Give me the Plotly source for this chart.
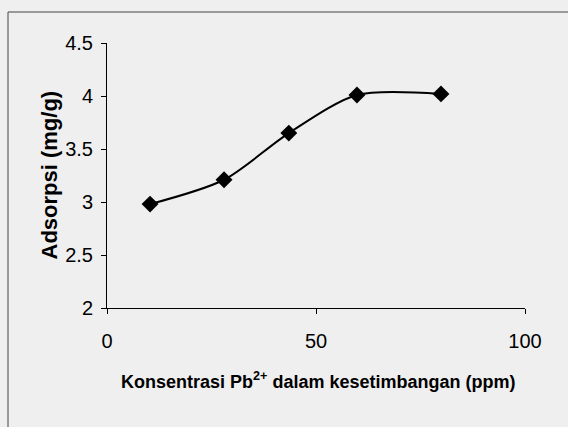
import plotly.graph_objects as go

# Data
konsentrasi = [10.3, 28.0, 43.5, 59.8, 79.9]
adsorpsi = [2.98, 3.21, 3.65, 4.01, 4.02]

x_tick_vals = [0, 50, 100]
y_tick_vals = [2, 2.5, 3, 3.5, 4, 4.5]
y_tick_text = ["2", "2.5", "3", "3.5", "4", "4.5"]

W, H = 568, 427
L, R, T, B = 107, 43, 43, 119
pw, ph = W - L - R, H - T - B
BG = "#efefef"

def px_x(px):
    return (px - L) / pw

def px_y(py):
    return (H - B - py) / ph

fig = go.Figure()
fig.add_trace(go.Scatter(
    x=konsentrasi, y=adsorpsi, mode="lines+markers",
    line=dict(color="black", width=2, shape="spline", smoothing=0.8),
    marker=dict(symbol="diamond", size=13, color="black"),
    showlegend=False, cliponaxis=False,
))

font_family = "Liberation Sans, Arial, sans-serif"

fig.update_layout(
    width=W, height=H,
    margin=dict(l=L, r=R, t=T, b=B),
    paper_bgcolor=BG, plot_bgcolor=BG,
    font=dict(family=font_family, color="black"),
    xaxis=dict(range=[0, 100], tickvals=x_tick_vals, ticks="outside", ticklen=5,
               tickcolor="black", showline=True, linecolor="black", linewidth=1,
               showgrid=False, zeroline=False, ticklabelstandoff=10,
               tickfont=dict(size=20, color="black")),
    yaxis=dict(range=[2, 4.5], tickvals=y_tick_vals, ticktext=y_tick_text,
               ticks="outside", ticklen=5, tickcolor="black", showline=True,
               linecolor="black", linewidth=1, showgrid=False, zeroline=False,
               ticklabelstandoff=4, tickfont=dict(size=20, color="black")),
    annotations=[
        dict(text="<b>Adsorpsi (mg/g)</b>", textangle=-90, xref="paper", yref="paper",
             x=px_x(49), y=0.5, showarrow=False, font=dict(size=22, color="black"),
             xanchor="center", yanchor="middle"),
        dict(text="<b>Konsentrasi Pb<sup>2+</sup> dalam kesetimbangan (ppm)</b>",
             xref="paper", yref="paper", x=px_x(318), y=px_y(380), showarrow=False,
             font=dict(size=18, color="black"), xanchor="center", yanchor="middle"),
    ],
    shapes=[
        dict(type="line", xref="paper", yref="paper",
             x0=px_x(8), x1=px_x(568), y0=px_y(12), y1=px_y(12),
             line=dict(color="#444444", width=1), layer="below"),
        dict(type="line", xref="paper", yref="paper",
             x0=px_x(8), x1=px_x(8), y0=px_y(12), y1=px_y(427),
             line=dict(color="#444444", width=1), layer="below"),
    ],
)

fig.write_html(
    "out.html",
    config={"displayModeBar": False},
    post_script="document.body.style.margin='0';document.body.style.background='%s';" % BG,
)
